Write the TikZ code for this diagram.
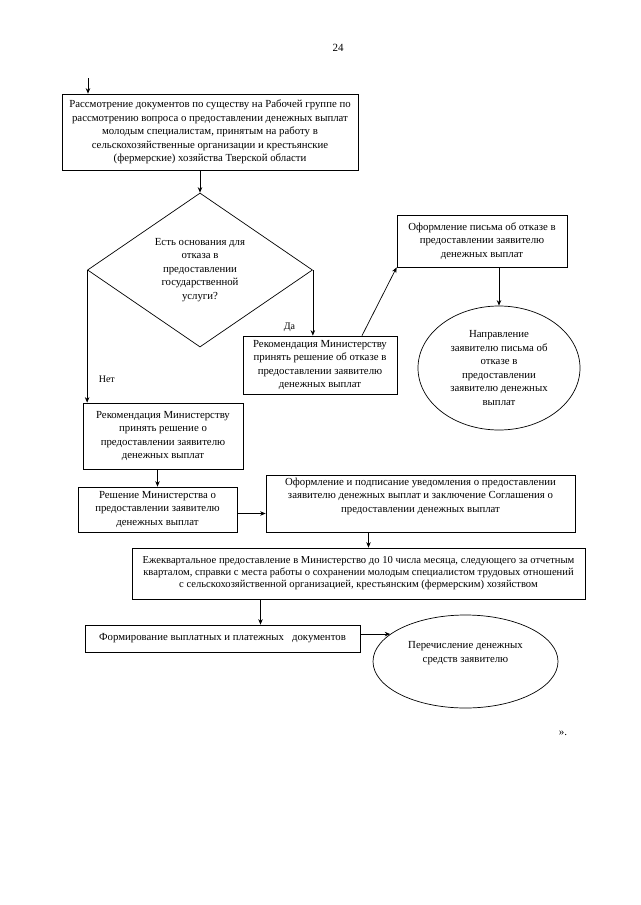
\documentclass[tikz,border=0pt]{standalone}
\usepackage{fontspec}
\setmainfont{Liberation Serif}
\usetikzlibrary{shapes.geometric,arrows.meta}

\begin{document}
\begin{tikzpicture}[x=1pt, y=-1pt,
	box/.style={draw, line width=0.7pt, align=center, inner sep=2pt, font=\fontsize{10.8}{13.5}\selectfont},
	arr/.style={->, line width=0.7pt, >={Stealth[length=5.5pt, width=4.5pt]}},
	lbl/.style={font=\fontsize{10}{12}\selectfont}]
	\useasboundingbox (0, 0) rectangle (640, 905);
	\node (pagenum) at (338, 48) {\fontsize{11}{13}\selectfont 24};
	\node[box, minimum width=296, minimum height=76] (review) at (210, 132) {Рассмотрение документов по существу на Рабочей группе по\\ рассмотрению вопроса о предоставлении денежных выплат\\ молодым специалистам, принятым на работу в\\ сельскохозяйственные организации и крестьянские\\ (фермерские) хозяйства Тверской области};
	\node[box, diamond, inner sep=0pt, minimum width=225, minimum height=154] (grounds) at (200, 270) {Есть основания для\\ отказа в\\ предоставлении\\ государственной\\ услуги?};
	\node[box, minimum width=154, minimum height=58] (refuse) at (320, 365) {Рекомендация Министерству\\ принять решение об отказе в\\ предоставлении заявителю\\ денежных выплат};
	\node[box, minimum width=170, minimum height=52] (letter) at (482, 241) {Оформление письма об отказе в\\ предоставлении заявителю\\ денежных выплат};
	\node[box, ellipse, inner sep=0pt, minimum width=162, minimum height=124] (sendletter) at (499, 368) {Направление\\ заявителю письма об\\ отказе в\\ предоставлении\\ заявителю денежных\\ выплат};
	\node[box, minimum width=160, minimum height=66] (grant) at (163, 436) {Рекомендация Министерству\\ принять решение о\\ предоставлении заявителю\\ денежных выплат};
	\node[box, minimum width=159, minimum height=45] (decision) at (157.5, 509.5) {Решение Министерства о\\ предоставлении заявителю\\ денежных выплат};
	\node[box, minimum width=309, minimum height=57] (notice) at (420.5, 503.5) {Оформление и подписание уведомления о предоставлении\\ заявителю денежных выплат и заключение Соглашения о\\ предоставлении денежных выплат\\[4pt]};
	\node[box, font=\fontsize{10.6}{12}\selectfont, minimum width=453, minimum height=51] (quarterly) at (358.5, 573.5) {Ежеквартальное предоставление в Министерство до 10 числа месяца, следующего за отчетным\\ кварталом, справки с места работы о сохранении молодым специалистом трудовых отношений\\ с сельскохозяйственной организацией, крестьянским (фермерским) хозяйством};
	\node[box, minimum width=275, minimum height=27] (payment) at (222.5, 638.5) {Формирование выплатных и платежных\ \ \ документов};
	\node[box, ellipse, inner sep=0pt, minimum width=185, minimum height=93] (transfer) at (465.5, 661.5) {Перечисление денежных\\ средств заявителю\\[6pt]};
	\node (closing) at (563, 733) {\fontsize{11}{13}\selectfont ».};
	\coordinate (start) at (88, 78);
	\draw[arr] (start) -- (start |- review.north);
	\draw[arr] (grounds.north |- review.south) -- (grounds.north);
	\draw[arr] (grounds.east) -- node[pos=0.88, left=14pt, lbl] {Да} (grounds.east |- refuse.north);
	\draw[arr] ([xshift=42pt]refuse.north) -- (letter.south west);
	\draw[arr] (sendletter.north |- letter.south) -- (sendletter.north);
	\draw[arr] (grounds.west) -- node[pos=0.82, right=8pt, lbl] {Нет} (grounds.west |- grant.north);
	\draw[arr] (decision.north |- grant.south) -- (decision.north);
	\draw[arr] ([yshift=-4pt]decision.east) -- ([yshift=-4pt]decision.east -| notice.west);
	\draw[arr] ([xshift=-52pt]notice.south) -- ([xshift=-52pt]notice.south |- quarterly.north);
	\draw[arr] ([xshift=-98pt]quarterly.south) -- ([xshift=-98pt]quarterly.south |- payment.north);
	\draw[arr] (payment.east |- transfer.160) -- (transfer.160);
\end{tikzpicture}
\end{document}
